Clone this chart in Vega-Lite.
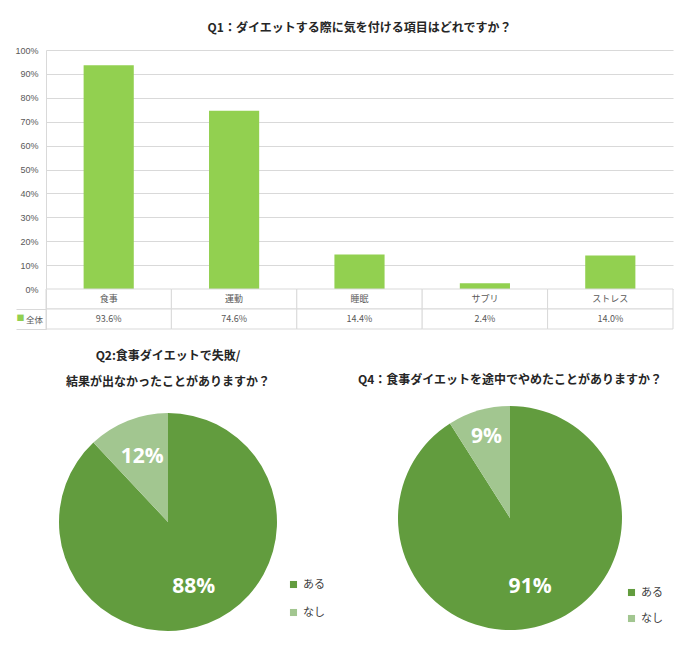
{
  "$schema": "https://vega.github.io/schema/vega-lite/v6.json",
  "padding": {"left": 14, "top": 22, "right": 0, "bottom": 0},
  "config": {"font": "Noto Sans CJK JP", "view": {"stroke": null}},
  "datasets": {
    "q1": [
      {"item": "食事", "pct": 0.936},
      {"item": "運動", "pct": 0.746},
      {"item": "睡眠", "pct": 0.144},
      {"item": "サプリ", "pct": 0.024},
      {"item": "ストレス", "pct": 0.14}
    ],
    "table": [
      {"item": "食事", "row": "label", "text": "食事"},
      {"item": "運動", "row": "label", "text": "運動"},
      {"item": "睡眠", "row": "label", "text": "睡眠"},
      {"item": "サプリ", "row": "label", "text": "サプリ"},
      {"item": "ストレス", "row": "label", "text": "ストレス"},
      {"item": "食事", "row": "value", "text": "93.6%"},
      {"item": "運動", "row": "value", "text": "74.6%"},
      {"item": "睡眠", "row": "value", "text": "14.4%"},
      {"item": "サプリ", "row": "value", "text": "2.4%"},
      {"item": "ストレス", "row": "value", "text": "14.0%"}
    ],
    "q2": [
      {"ans": "ある", "share": 0.88},
      {"ans": "なし", "share": 0.12}
    ],
    "q4": [
      {"ans": "ある", "share": 0.91},
      {"ans": "なし", "share": 0.09}
    ]
  },
  "spacing": 20,
  "vconcat": [
    {
      "bounds": "flush",
      "spacing": 0,
      "vconcat": [
        {
          "data": {"name": "q1"},
          "width": 627,
          "height": 239,
          "title": {"text": "Q1：ダイエットする際に気を付ける項目はどれですか？", "fontSize": 12, "fontWeight": "bold", "color": "#262626", "offset": 11},
          "mark": {"type": "bar", "color": "#92d050"},
          "encoding": {
            "x": {"field": "item", "type": "nominal", "sort": null, "scale": {"paddingInner": 0.6, "paddingOuter": 0.3}, "axis": null},
            "y": {
              "field": "pct", "type": "quantitative", "scale": {"domain": [0, 1]},
              "axis": {"format": ".0%", "values": [0, 0.1, 0.2, 0.3, 0.4, 0.5, 0.6, 0.7, 0.8, 0.9, 1], "title": null, "ticks": false, "labelPadding": 8, "labelFontSize": 9, "labelColor": "#595959", "labelFont": "Liberation Sans", "gridColor": "#d9d9d9", "domainColor": "#d9d9d9"}
            }
          }
        },
        {
          "data": {"name": "table"},
          "width": 627,
          "height": 40,
          "encoding": {
            "x": {"field": "item", "type": "nominal", "sort": ["食事", "運動", "睡眠", "サプリ", "ストレス"], "scale": {"paddingInner": 0, "paddingOuter": 0}, "axis": null},
            "y": {
              "field": "row", "type": "nominal", "scale": {"domain": ["label", "value"], "paddingInner": 0, "paddingOuter": 0},
              "axis": {"title": "全体", "titleAngle": 0, "titleX": -12, "titleY": 30, "titleAlign": "center", "titleBaseline": "middle", "titleFontSize": 8.5, "titleFontWeight": "normal", "titleColor": "#595959", "labelExpr": "datum.value == 'value' ? '■' : ''", "labelColor": "#92d050", "labelFontSize": 8, "labelPadding": -8, "tickSize": 30, "tickColor": "#d9d9d9", "bandPosition": 1, "domainColor": "#d9d9d9"}
            }
          },
          "layer": [
            {"mark": {"type": "rect", "fill": "white", "stroke": "#d9d9d9", "strokeWidth": 1}},
            {"mark": {"type": "text", "fontSize": 9, "color": "#595959"}, "encoding": {"text": {"field": "text"}}}
          ]
        }
      ]
    },
    {
      "bounds": "flush",
      "spacing": 108,
      "resolve": {"scale": {"color": "independent"}},
      "hconcat": [
        {
          "data": {"name": "q2"},
          "width": 244,
          "height": 232,
          "title": {"text": ["Q2:食事ダイエットで失敗/", "結果が出なかったことがありますか？"], "fontSize": 12, "fontWeight": "bold", "color": "#262626", "lineHeight": 26, "offset": 17},
          "encoding": {
            "theta": {"field": "share", "type": "quantitative", "stack": true},
            "order": {"field": "share", "type": "quantitative", "sort": "descending"},
            "color": {
              "field": "ans", "type": "nominal", "scale": {"domain": ["ある", "なし"], "range": ["#629c3e", "#a2c690"]},
              "legend": {"title": null, "orient": "none", "legendX": 242, "legendY": 173, "symbolType": "square", "symbolSize": 50, "symbolStrokeWidth": 0, "labelFontSize": 11, "labelColor": "#404040", "rowPadding": 16}
            }
          },
          "layer": [
            {"mark": {"type": "arc", "outerRadius": 109}},
            {"mark": {"type": "text", "radius": 70, "fontSize": 21, "fontWeight": "bold", "font": "Open Sans"}, "encoding": {"text": {"field": "share", "format": ".0%"}, "detail": {"field": "ans"}, "color": {"value": "white"}}}
          ]
        },
        {
          "data": {"name": "q4"},
          "width": 224,
          "height": 224,
          "title": {"text": "Q4：食事ダイエットを途中でやめたことがありますか？", "fontSize": 12, "fontWeight": "bold", "color": "#262626", "offset": 19},
          "encoding": {
            "theta": {"field": "share", "type": "quantitative", "stack": true},
            "order": {"field": "share", "type": "quantitative", "sort": "descending"},
            "color": {
              "field": "ans", "type": "nominal", "scale": {"domain": ["ある", "なし"], "range": ["#629c3e", "#a2c690"]},
              "legend": {"title": null, "orient": "none", "legendX": 228, "legendY": 181, "symbolType": "square", "symbolSize": 50, "symbolStrokeWidth": 0, "labelFontSize": 11, "labelColor": "#404040", "rowPadding": 14}
            }
          },
          "layer": [
            {"mark": {"type": "arc", "outerRadius": 112}},
            {"mark": {"type": "text", "radius": 72, "fontSize": 21, "fontWeight": "bold", "font": "Open Sans"}, "encoding": {"text": {"condition": {"test": "datum.ans == 'ある'", "field": "share", "format": ".0%"}, "value": ""}, "detail": {"field": "ans"}, "color": {"value": "white"}}},
            {"mark": {"type": "text", "radius": 84, "fontSize": 21, "fontWeight": "bold", "font": "Open Sans"}, "encoding": {"text": {"condition": {"test": "datum.ans == 'なし'", "field": "share", "format": ".0%"}, "value": ""}, "detail": {"field": "ans"}, "color": {"value": "white"}}}
          ]
        }
      ]
    }
  ]
}
